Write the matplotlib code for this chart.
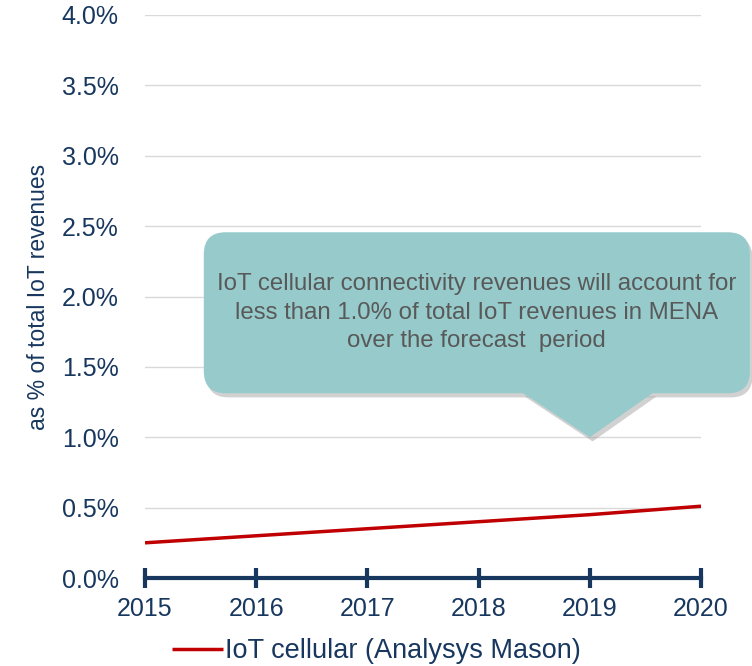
import matplotlib.pyplot as plt
import numpy as np
from matplotlib.patches import FancyBboxPatch, Polygon
from matplotlib.transforms import IdentityTransform
import matplotlib.patheffects as pe

plt.rcParams['font.family'] = ['Liberation Sans', 'DejaVu Sans']

years = [2015, 2016, 2017, 2018, 2019, 2020]
iot_cellular = [0.25, 0.30, 0.35, 0.40, 0.45, 0.51]  # % of total IoT revenues
y_ticks = [0.0, 0.5, 1.0, 1.5, 2.0, 2.5, 3.0, 3.5, 4.0]
callout_text = ("IoT cellular connectivity revenues will account for\n"
                "less than 1.0% of total IoT revenues in MENA\n"
                "over the forecast  period")
callout_target = (2019, 1.0)

navy = '#17375E'
red = '#C00000'
teal = '#96CACB'

fig = plt.figure(figsize=(7.52, 6.66), dpi=100)
ax = fig.add_axes([145 / 752, 1 - 578 / 666, 556 / 752, 563 / 666])

ax.plot(years, iot_cellular, color=red, lw=2.5, solid_capstyle='butt',
        label='IoT cellular (Analysys Mason)', zorder=3)

ax.set_xlim(years[0], years[-1])
ax.set_ylim(y_ticks[0], y_ticks[-1])
ax.set_xticks(years)
ax.set_yticks(y_ticks)
ax.set_yticklabels([f'{v:.1f}%' for v in y_ticks])
ax.grid(axis='y', color='#D9D9D9', lw=1)
ax.set_axisbelow(True)

for s in ['top', 'right', 'left']:
    ax.spines[s].set_visible(False)
ax.spines['bottom'].set_color(navy)
ax.spines['bottom'].set_linewidth(3)
ax.spines['bottom'].set_zorder(4)

ax.tick_params(axis='x', direction='inout', length=15, width=3, color=navy,
               labelsize=18, labelcolor=navy, pad=6)
ax.tick_params(axis='y', length=0, labelsize=18, labelcolor=navy, pad=19)
ax.set_ylabel('as % of total IoT revenues', fontsize=16.5, color=navy, labelpad=8)

# callout bubble, placed relative to the point it refers to
fig.canvas.draw()
tx, ty = ax.transData.transform(callout_target)
bx0, bx1 = tx - 386, tx + 160
by0, by1 = ty + 44, ty + 205
shadow = [pe.SimplePatchShadow(offset=(2, -3), shadow_rgbFace='#9a9a9a', alpha=0.45),
          pe.Normal()]
box = FancyBboxPatch((bx0, by0), bx1 - bx0, by1 - by0,
                     boxstyle='round,pad=0,rounding_size=22',
                     transform=IdentityTransform(), facecolor=teal,
                     edgecolor='none', clip_on=False, zorder=5,
                     path_effects=shadow)
fig.add_artist(box)
tri = Polygon([(tx - 68, by0 + 1), (tx + 64, by0 + 1), (tx, ty)], closed=True,
              transform=IdentityTransform(), facecolor=teal, edgecolor='none',
              clip_on=False, zorder=5, path_effects=shadow)
fig.add_artist(tri)
# cover the seam between box and pointer shadow
seam = Polygon([(tx - 66, by0 + 3), (tx + 62, by0 + 3), (tx + 60, by0 - 2), (tx - 64, by0 - 2)],
               closed=True, transform=IdentityTransform(), facecolor=teal,
               edgecolor='none', clip_on=False, zorder=6)
fig.add_artist(seam)
fig.text((bx0 + bx1) / 2 / fig.bbox.width, (by0 + by1) / 2 / fig.bbox.height,
         callout_text, ha='center', va='center', fontsize=17.3, color='#595959',
         linespacing=1.38, zorder=7)

fig.legend(loc='center', bbox_to_anchor=(0.5, 1 - 651 / 666), frameon=False,
           fontsize=19.5, handlelength=1.9, handletextpad=0.05,
           labelcolor=navy)

fig.savefig('out.png', dpi=100)
